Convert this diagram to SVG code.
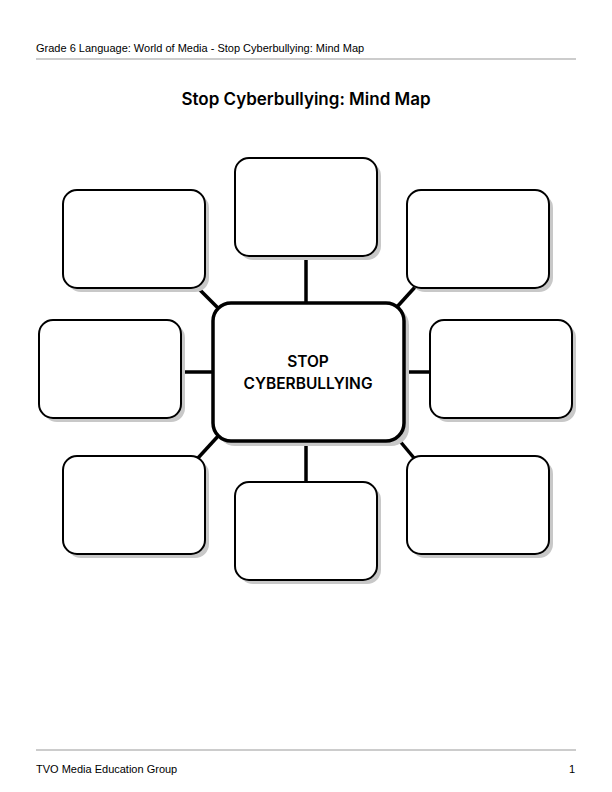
<svg xmlns="http://www.w3.org/2000/svg" width="612" height="792" viewBox="0 0 612 792">
<style>
.t{font-family:"Liberation Sans",Arial,sans-serif;fill:#000}
.h{font-family:Inter,"Liberation Sans",sans-serif;font-weight:600;fill:#000}
.b{fill:#fff;stroke:#000;stroke-width:2}
.s{fill:#c8c8c8}
.c{stroke:#000;stroke-width:3.5;fill:none}
</style>
<rect width="612" height="792" fill="#fff"/>
<text class="t" x="36" y="52" font-size="11">Grade 6 Language: World of Media - Stop Cyberbullying: Mind Map</text>
<line x1="36" y1="59" x2="576" y2="59" stroke="#999" stroke-width="1"/>
<text class="h" x="306" y="105" font-size="17" text-anchor="middle">Stop Cyberbullying: Mind Map</text>
<g id="connectors">
<line class="c" x1="306" y1="256" x2="306" y2="304"/>
<line class="c" x1="306" y1="440" x2="306" y2="482"/>
<line class="c" x1="181" y1="372" x2="214" y2="372"/>
<line class="c" x1="402" y1="372" x2="430" y2="372"/>
<line class="c" x1="196" y1="286" x2="220" y2="310"/>
<line class="c" x1="416" y1="286" x2="396" y2="308"/>
<line class="c" x1="198" y1="458" x2="220" y2="434"/>
<line class="c" x1="414" y1="458" x2="394" y2="434"/>
</g>
<g id="top"><rect class="s" x="239" y="162" width="142" height="98" rx="14"/><rect class="b" x="235" y="158" width="142" height="98" rx="14"/></g>
<g id="topleft"><rect class="s" x="67" y="194" width="142" height="98" rx="14"/><rect class="b" x="63" y="190" width="142" height="98" rx="14"/></g>
<g id="topright"><rect class="s" x="411" y="194" width="142" height="98" rx="14"/><rect class="b" x="407" y="190" width="142" height="98" rx="14"/></g>
<g id="left"><rect class="s" x="43" y="324" width="142" height="98" rx="14"/><rect class="b" x="39" y="320" width="142" height="98" rx="14"/></g>
<g id="right"><rect class="s" x="434" y="324" width="142" height="98" rx="14"/><rect class="b" x="430" y="320" width="142" height="98" rx="14"/></g>
<g id="bottomleft"><rect class="s" x="67" y="460" width="142" height="98" rx="14"/><rect class="b" x="63" y="456" width="142" height="98" rx="14"/></g>
<g id="bottom"><rect class="s" x="239" y="486" width="142" height="98" rx="14"/><rect class="b" x="235" y="482" width="142" height="98" rx="14"/></g>
<g id="bottomright"><rect class="s" x="411" y="460" width="142" height="98" rx="14"/><rect class="b" x="407" y="456" width="142" height="98" rx="14"/></g>
<g id="center"><rect class="s" x="217" y="307" width="192" height="139" rx="18"/><rect x="213" y="303" width="191" height="138" rx="18" fill="#fff" stroke="#000" stroke-width="3.5"/>
<text class="h" x="308" y="367" font-size="15.5" text-anchor="middle">STOP</text>
<text class="h" x="308" y="389" font-size="15.5" text-anchor="middle">CYBERBULLYING</text></g>
<line x1="36" y1="750" x2="576" y2="750" stroke="#999" stroke-width="1"/>
<text class="t" x="36" y="773" font-size="11">TVO Media Education Group</text>
<text class="t" x="575" y="773" font-size="11" text-anchor="end">1</text>
</svg>
